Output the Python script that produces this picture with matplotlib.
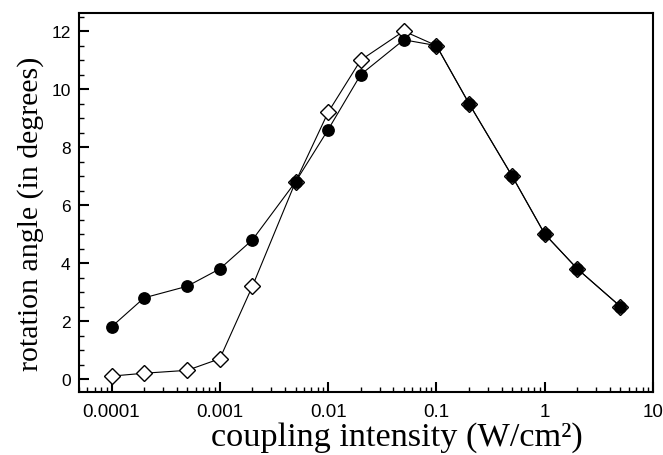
import numpy as np
import matplotlib
matplotlib.use('Agg')
import matplotlib.pyplot as plt
from matplotlib.ticker import FixedLocator, MultipleLocator, LogLocator, NullFormatter

# Kopplungsintensitaet in W/cm^2
intensitaet = [0.0001, 0.0002, 0.0005, 0.001, 0.002, 0.005, 0.01, 0.02,
               0.05, 0.1, 0.2, 0.5, 1, 2, 5]
# Drehwinkel (Grad), offene Rauten
winkel_raute = [0.1, 0.2, 0.3, 0.7, 3.2, 6.8, 9.2, 11.0, 12.0, 11.5, 9.5,
                7.0, 5.0, 3.8, 2.5]
# Drehwinkel (Grad), gefuellte Kreise
winkel_kreis = [1.8, 2.8, 3.2, 3.8, 4.8, 6.8, 8.6, 10.5, 11.7, 11.5, 9.5,
                7.0, 5.0, 3.8, 2.5]

x_ticks = [0.0001, 0.001, 0.01, 0.1, 1, 10]
x_labels = ['0.0001', '0.001', '0.01', '0.1', '1', '10']
y_ticks = [0, 2, 4, 6, 8, 10, 12]

fig = plt.figure(figsize=(6.63, 4.56), dpi=100)
ax = fig.add_axes([0.119, 0.138, 0.866, 0.831])

ax.plot(intensitaet, winkel_raute, color='black', lw=0.8, marker='D',
        markersize=8.5, markerfacecolor='white', markeredgecolor='black',
        markeredgewidth=1.0, zorder=2)
ax.plot(intensitaet, winkel_kreis, color='black', lw=0.8, marker='o',
        markersize=8.2, markerfacecolor='black', markeredgecolor='black',
        zorder=3)

ax.set_xscale('log')
ax.set_xlim(5e-5, 10)
ax.set_ylim(-0.45, 12.62)

ax.xaxis.set_major_locator(FixedLocator(x_ticks))
ax.set_xticklabels(x_labels)
ax.xaxis.set_minor_locator(LogLocator(base=10, subs=np.arange(2, 10), numticks=20))
ax.xaxis.set_minor_formatter(NullFormatter())
ax.yaxis.set_major_locator(FixedLocator(y_ticks))
ax.yaxis.set_minor_locator(MultipleLocator(0.5))

ax.tick_params(which='both', direction='in', top=False, right=False)
ax.tick_params(which='major', length=7, width=1.5)
ax.tick_params(which='minor', length=3.5, width=1.0)
ax.tick_params(axis='x', which='major', labelsize=13.5, pad=8)
ax.tick_params(axis='y', which='major', labelsize=12.5, pad=6)
for lab in ax.get_xticklabels() + ax.get_yticklabels():
    lab.set_family(['Liberation Sans', 'DejaVu Sans'])

for s in ax.spines.values():
    s.set_linewidth(1.5)

ax.set_xlabel('coupling intensity (W/cm²)', family='Liberation Serif',
              fontsize=24.7, labelpad=1)
ax.set_ylabel('rotation angle (in degrees)', family='Liberation Serif',
              fontsize=21.5, labelpad=5)
# Achsentitel wie im Original leicht versetzt
ax.xaxis.label.set_x(0.554)
ax.yaxis.label.set_y(0.472)

fig.savefig('out.png', dpi=100)
